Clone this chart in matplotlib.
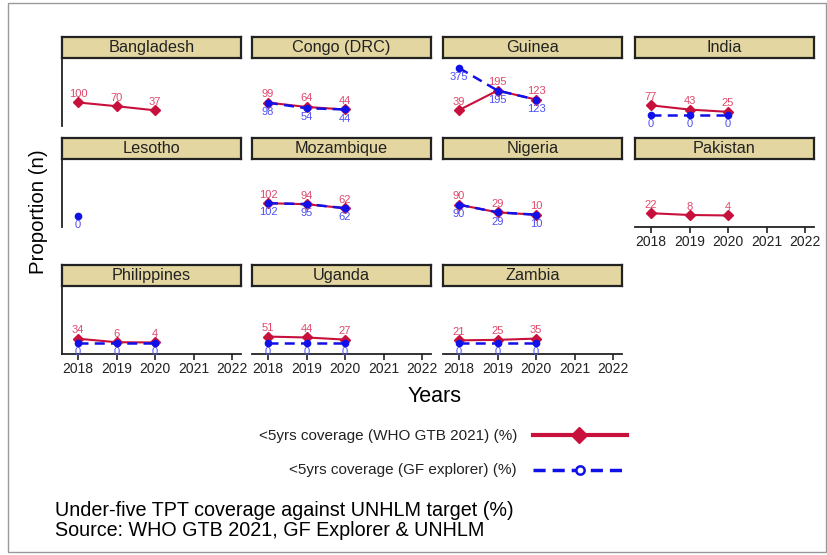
import matplotlib
matplotlib.use("Agg")
import matplotlib.pyplot as plt
import numpy as np
from matplotlib.lines import Line2D
from matplotlib.patches import Rectangle

plt.rcParams['font.family'] = ['Liberation Sans', 'DejaVu Sans']

years = [2018, 2019, 2020]
countries = ["Bangladesh", "Congo (DRC)", "Guinea", "India", "Lesotho", "Mozambique",
             "Nigeria", "Pakistan", "Philippines", "Uganda", "Zambia"]
who_vals = {
    "Bangladesh": [100, 70, 37],
    "Congo (DRC)": [99, 64, 44],
    "Guinea": [39, 195, 123],
    "India": [77, 43, 25],
    "Lesotho": [None, None, None],
    "Mozambique": [102, 94, 62],
    "Nigeria": [90, 29, 10],
    "Pakistan": [22, 8, 4],
    "Philippines": [34, 6, 4],
    "Uganda": [51, 44, 27],
    "Zambia": [21, 25, 35],
}
gf_vals = {
    "Bangladesh": [None, None, None],
    "Congo (DRC)": [98, 54, 44],
    "Guinea": [375, 195, 123],
    "India": [0, 0, 0],
    "Lesotho": [0, None, None],
    "Mozambique": [102, 95, 62],
    "Nigeria": [90, 29, 10],
    "Pakistan": [None, None, None],
    "Philippines": [0, 0, 0],
    "Uganda": [0, 0, 0],
    "Zambia": [0, 0, 0],
}
xticks = [2018, 2019, 2020, 2021, 2022]
legend_labels = ["<5yrs coverage (WHO GTB 2021) (%)", "<5yrs coverage (GF explorer) (%)"]

RED = "#C8103C"
RED_TXT = "#E0486A"
BLUE = "#1010E8"
BLUE_TXT = "#4F4FF5"
STRIP = "#E3D6A0"

W, H = 828, 555
fig = plt.figure(figsize=(W / 100, H / 100), dpi=100)

def fa(x0, y0, x1, y1):
    return [x0 / W, 1 - y1 / H, (x1 - x0) / W, (y1 - y0) / H]

col_x = [62, 252, 443, 635]
pw = 179
row_top = [58, 159, 286]
ph = 68
sh = 21
bottom_panels = {"Pakistan", "Philippines", "Uganda", "Zambia"}

for i, c in enumerate(countries):
    r, k = divmod(i, 4)
    x0 = col_x[k]
    y0 = row_top[r]
    ax = fig.add_axes(fa(x0, y0, x0 + pw, y0 + ph))
    ax.set_xlim(2017.584, 2022.23)
    ax.set_ylim(-88, 455)
    for s in ["top", "right"]:
        ax.spines[s].set_visible(False)
    ax.spines["left"].set_visible(k == 0)
    ax.spines["bottom"].set_visible(c in bottom_panels)
    for s in ["left", "bottom"]:
        ax.spines[s].set_linewidth(1.3)
        ax.spines[s].set_color("#222222")
    ax.set_yticks([])
    if c in bottom_panels:
        ax.set_xticks(xticks)
        ax.set_xticklabels([str(t) for t in xticks], fontsize=10)
        ax.tick_params(axis="x", length=4, width=1.2, pad=2, colors="#222222")
    else:
        ax.set_xticks([])
    ax.patch.set_alpha(0)

    wv = who_vals[c]
    gv = gf_vals[c]
    wx = [y for y, v in zip(years, wv) if v is not None]
    wy = [v for v in wv if v is not None]
    gx = [y for y, v in zip(years, gv) if v is not None]
    gy = [v for v in gv if v is not None]
    if wx:
        ax.plot(wx, wy, color=RED, lw=1.5, marker="D", ms=5, mfc=RED, mec=RED, zorder=3, clip_on=False)
        for xx, yy in zip(wx, wy):
            ax.annotate(str(yy), (xx, yy), xytext=(0, 2.5), textcoords="offset points",
                        ha="center", va="bottom", fontsize=8, color=RED_TXT, zorder=5)
    if gx:
        ax.plot(gx, gy, color=BLUE, lw=1.8, ls=(0, (4, 2.5)), marker="o", ms=4.5,
                mfc=BLUE, mec=BLUE, zorder=4, clip_on=False)
        for xx, yy in zip(gx, gy):
            ax.annotate(str(yy), (xx, yy), xytext=(0, -3), textcoords="offset points",
                        ha="center", va="top", fontsize=8, color=BLUE_TXT, zorder=5)

    sax = fig.add_axes(fa(x0, y0 - sh, x0 + pw, y0))
    sax.set_xticks([]); sax.set_yticks([])
    sax.set_facecolor(STRIP)
    for s in sax.spines.values():
        s.set_linewidth(1.6)
        s.set_color("#222222")
    sax.text(0.5, 0.5, c, ha="center", va="center", fontsize=11.7, color="#222222",
             transform=sax.transAxes)

# axis titles
fig.text(38 / W, 1 - 212 / H, "Proportion (n)", rotation=90, ha="center", va="center", fontsize=14.7)
fig.text(435 / W, 1 - 396 / H, "Years", ha="center", va="center", fontsize=15.5)

# legend
lax = fig.add_axes([0, 0, 1, 1])
lax.set_xlim(0, W); lax.set_ylim(H, 0)
lax.axis("off")
lax.patch.set_alpha(0)
lax.text(517, 436, legend_labels[0], ha="right", va="center", fontsize=11, color="#222222")
lax.text(517, 470, legend_labels[1], ha="right", va="center", fontsize=11, color="#222222")
lax.add_line(Line2D([533, 627], [435, 435], color=RED, lw=3))
lax.plot([579], [435], marker="D", ms=8, color=RED)
lax.add_line(Line2D([533, 627], [470, 470], color=BLUE, lw=2.5, ls=(0, (3.5, 2))))
lax.plot([580], [470], marker="o", ms=6, mfc="white", mec=BLUE, mew=1.8)

# caption
lax.text(55, 510, "Under-five TPT coverage against UNHLM target (%)", ha="left", va="center", fontsize=14.2)
lax.text(55, 530, "Source: WHO GTB 2021, GF Explorer & UNHLM", ha="left", va="center", fontsize=14.2)

# frame
lax.add_patch(Rectangle((8, 3), 818, 549, fill=False, ec="#999999", lw=1))

fig.savefig("out.png", dpi=100)
